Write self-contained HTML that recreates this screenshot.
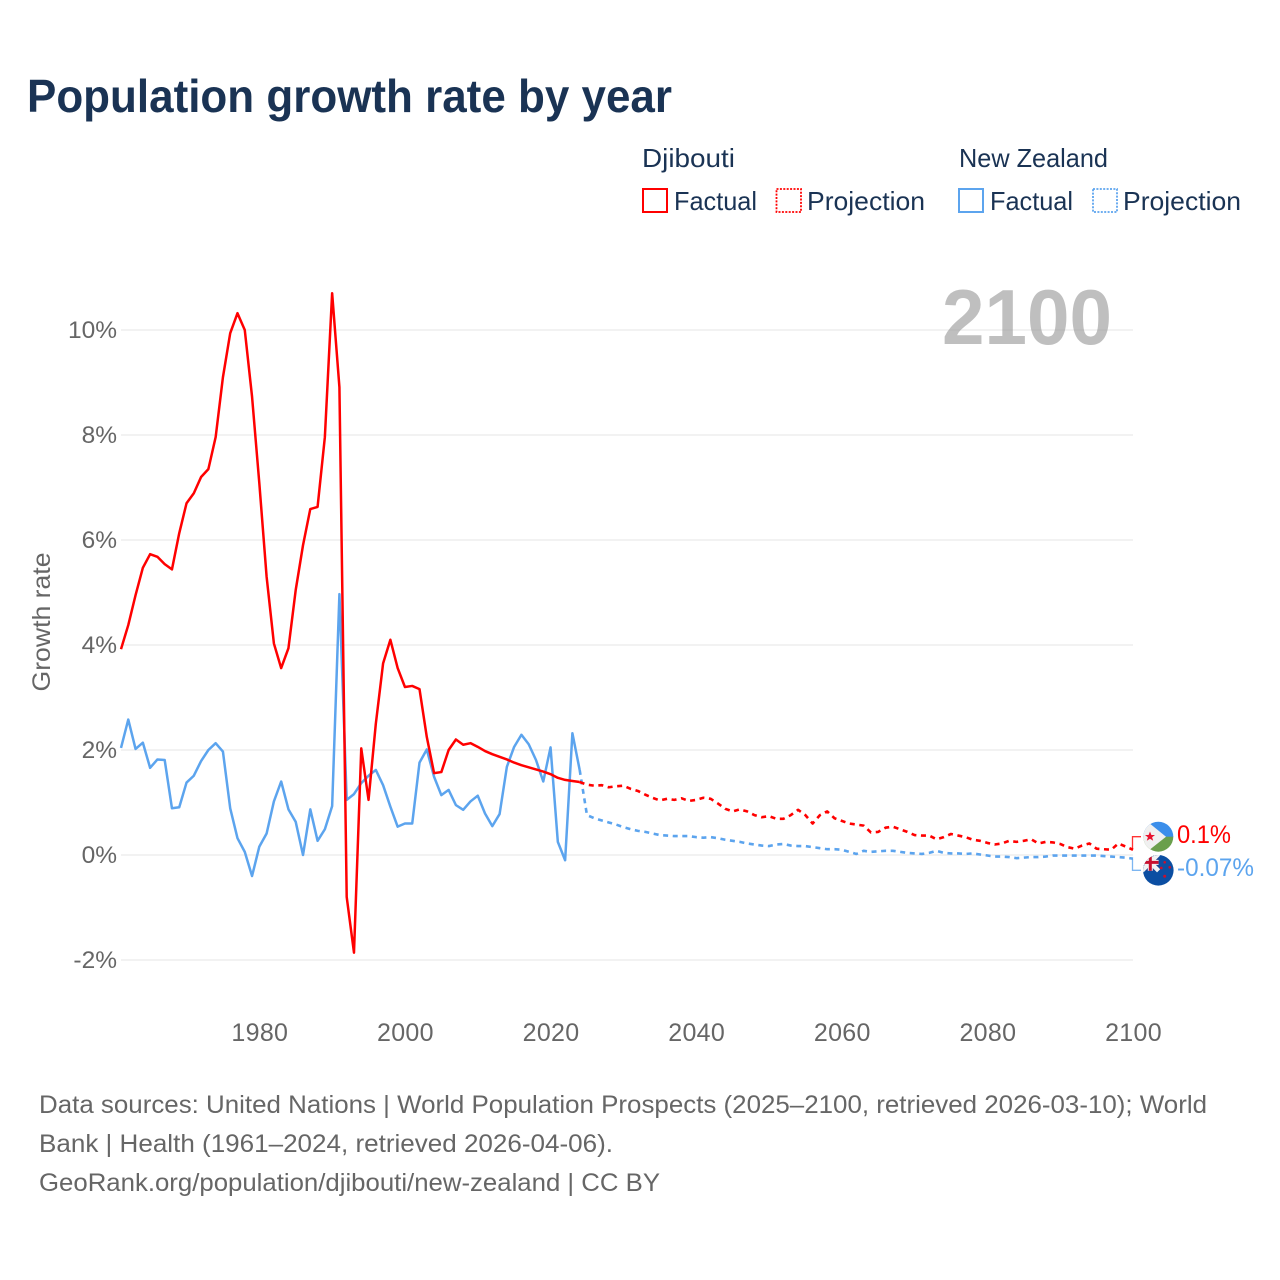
<!DOCTYPE html>
<html lang="en">
<head>
<meta charset="utf-8">
<title>Population growth rate by year</title>
<style>
  html, body { margin: 0; padding: 0; background: #fff; }
  svg { display: block; }
  text { font-family: "Liberation Sans", "DejaVu Sans", sans-serif; }
</style>
</head>
<body>
<svg id="chart" xmlns="http://www.w3.org/2000/svg" width="1280" height="1280" viewBox="0 0 1280 1280">
  <defs>
    <clipPath id="flag-clip-dj"><circle cx="1158.3" cy="836.7" r="15"/></clipPath>
    <clipPath id="flag-clip-nz"><circle cx="1158.3" cy="870.3" r="15.3"/></clipPath>
  </defs>
  <rect width="1280" height="1280" fill="#fff"/>

  <text x="27" y="112" font-size="46" font-weight="700" fill="#1a3354" textLength="645" lengthAdjust="spacingAndGlyphs">Population growth rate by year</text>

  <g font-size="26" fill="#1a3354">
    <text x="642" y="167" textLength="93" lengthAdjust="spacingAndGlyphs">Djibouti</text>
    <text x="959" y="167" textLength="149" lengthAdjust="spacingAndGlyphs">New Zealand</text>
    <rect x="643" y="189" width="24" height="23" fill="none" stroke="#ff0000" stroke-width="2"/>
    <text x="674" y="210" textLength="83" lengthAdjust="spacingAndGlyphs">Factual</text>
    <rect x="776.5" y="189" width="24.5" height="23" fill="none" stroke="#ff0000" stroke-width="1.8" stroke-dasharray="2 1.4"/>
    <text x="807" y="210" textLength="118" lengthAdjust="spacingAndGlyphs">Projection</text>
    <rect x="959" y="189" width="24" height="23" fill="none" stroke="#5ca4ee" stroke-width="2"/>
    <text x="990" y="210" textLength="83" lengthAdjust="spacingAndGlyphs">Factual</text>
    <rect x="1093" y="189" width="24" height="23" fill="none" stroke="#5ca4ee" stroke-width="1.8" stroke-dasharray="2 1.4"/>
    <text x="1123" y="210" textLength="118" lengthAdjust="spacingAndGlyphs">Projection</text>
  </g>

  <g id="grid"></g>
  <g id="y-ticks"></g>
  <g id="x-ticks"></g>

  <text x="942" y="344" font-size="78" font-weight="700" fill="#949494" fill-opacity="0.6" textLength="170" lengthAdjust="spacingAndGlyphs">2100</text>

  <text transform="translate(50,622) rotate(-90)" text-anchor="middle" font-size="25" fill="#666" textLength="139" lengthAdjust="spacingAndGlyphs">Growth rate</text>

  <g id="series"></g>

  <g id="end-markers"></g>

  <g clip-path="url(#flag-clip-dj)">
    <rect x="1143" y="821" width="31" height="16" fill="#3b8eea"/>
    <rect x="1143" y="836.7" width="31" height="16" fill="#6a9f4c"/>
    <polygon points="1143,818 1143,855 1166,836.7" fill="#f0f0f0"/>
    <polygon points="1150,831.5 1151.4,835 1155,835 1152.1,837.3 1153.2,840.8 1150,838.7 1146.8,840.8 1147.9,837.3 1145,835 1148.6,835" fill="#e8112d"/>
  </g>
  <g clip-path="url(#flag-clip-nz)">
    <rect x="1142" y="854" width="33" height="33" fill="#0b4ea2"/>
    <rect x="1142" y="854" width="16.6" height="16.8" fill="#20408f"/>
    <path d="M1142 854 L1158.6 870.8 M1158.6 854 L1142 870.8" stroke="#f2f2f2" stroke-width="4.4"/>
    <path d="M1150.3 854 V870.8 M1142 862.4 H1158.6" stroke="#f2f2f2" stroke-width="5"/>
    <path d="M1150.3 854 V870.8 M1142 862.4 H1158.6" stroke="#c8102e" stroke-width="3"/>
    <circle cx="1161.3" cy="868" r="1.4" fill="#c8102e"/>
    <circle cx="1169.7" cy="867.3" r="1.3" fill="#c8102e"/>
    <circle cx="1164.7" cy="876.3" r="1.5" fill="#c8102e"/>
    <circle cx="1164.7" cy="862.3" r="1.3" fill="#c8102e"/>
  </g>

  <g font-size="25" fill="#666">
    <text x="39" y="1113" textLength="1168" lengthAdjust="spacingAndGlyphs">Data sources: United Nations | World Population Prospects (2025–2100, retrieved 2026-03-10); World</text>
    <text x="39" y="1152" textLength="574" lengthAdjust="spacingAndGlyphs">Bank | Health (1961–2024, retrieved 2026-04-06).</text>
    <text x="39" y="1191" textLength="621" lengthAdjust="spacingAndGlyphs">GeoRank.org/population/djibouti/new-zealand | CC BY</text>
  </g>
</svg>

<script>
const factualStartYear = 1961;
const projectionStartYear = 2025;

const djiboutiFactual = [
  3.92, 4.38, 4.95, 5.47, 5.73, 5.68, 5.54, 5.44, 6.13, 6.70,
  6.89, 7.20, 7.35, 7.96, 9.10, 9.94, 10.32, 10.00, 8.73, 7.08,
  5.30, 4.03, 3.56, 3.94, 5.05, 5.90, 6.59, 6.63, 7.96, 10.70,
  8.91, -0.80, -1.86, 2.03, 1.05, 2.50, 3.65, 4.10, 3.56, 3.20,
  3.22, 3.16, 2.25, 1.56, 1.58, 2.00, 2.20, 2.10, 2.13, 2.06,
  1.98, 1.92, 1.87, 1.82, 1.76, 1.71, 1.67, 1.63, 1.59, 1.54,
  1.47, 1.43, 1.41, 1.39
];

const djiboutiProjection = [
  1.34, 1.32, 1.33, 1.29, 1.31, 1.32, 1.26, 1.22, 1.15, 1.09,
  1.04, 1.07, 1.05, 1.08, 1.03, 1.05, 1.09, 1.07, 0.98, 0.88,
  0.83, 0.87, 0.83, 0.76, 0.72, 0.74, 0.69, 0.69, 0.76, 0.86,
  0.76, 0.60, 0.76, 0.83, 0.70, 0.65, 0.60, 0.58, 0.56, 0.43,
  0.44, 0.52, 0.54, 0.49, 0.44, 0.38, 0.37, 0.37, 0.30, 0.34,
  0.40, 0.37, 0.34, 0.29, 0.27, 0.23, 0.20, 0.22, 0.27, 0.25,
  0.27, 0.30, 0.22, 0.25, 0.24, 0.21, 0.15, 0.12, 0.18, 0.22,
  0.12, 0.11, 0.10, 0.22, 0.16, 0.10
];

const newZealandFactual = [
  2.04, 2.58, 2.02, 2.14, 1.66, 1.82, 1.81, 0.89, 0.91, 1.38,
  1.51, 1.79, 2.00, 2.13, 1.97, 0.89, 0.32, 0.06, -0.40, 0.16,
  0.41, 1.02, 1.40, 0.87, 0.63, 0.00, 0.87, 0.27, 0.49, 0.93,
  4.97, 1.05, 1.16, 1.37, 1.51, 1.62, 1.33, 0.92, 0.54, 0.60,
  0.60, 1.76, 2.01, 1.49, 1.14, 1.24, 0.95, 0.86, 1.02, 1.13,
  0.79, 0.55, 0.78, 1.68, 2.06, 2.29, 2.11, 1.81, 1.40, 2.05,
  0.25, -0.10, 2.32, 1.62
];

const newZealandProjection = [
  0.76, 0.70, 0.66, 0.62, 0.58, 0.53, 0.49, 0.46, 0.44, 0.41,
  0.38, 0.37, 0.36, 0.36, 0.36, 0.34, 0.33, 0.34, 0.32, 0.29,
  0.27, 0.25, 0.22, 0.20, 0.18, 0.17, 0.20, 0.21, 0.18, 0.17,
  0.17, 0.15, 0.13, 0.11, 0.11, 0.10, 0.06, 0.02, 0.08, 0.06,
  0.07, 0.08, 0.08, 0.06, 0.04, 0.03, 0.02, 0.04, 0.08, 0.04,
  0.03, 0.03, 0.02, 0.03, 0.01, -0.01, -0.03, -0.03, -0.04, -0.06,
  -0.05, -0.04, -0.04, -0.03, -0.01, -0.01, -0.01, -0.01, -0.01, -0.01,
  -0.01, -0.02, -0.03, -0.04, -0.05, -0.07
];

const yTickValues = [-2, 0, 2, 4, 6, 8, 10];
const yTickLabels = ["-2%", "0%", "2%", "4%", "6%", "8%", "10%"];
const xTickValues = [1980, 2000, 2020, 2040, 2060, 2080, 2100];
const xTickLabels = ["1980", "2000", "2020", "2040", "2060", "2080", "2100"];
const endLabels = ["0.1%", "-0.07%"];

const SVG_NS = "http://www.w3.org/2000/svg";
const plotLeft = 121;
const plotRight = 1133;
const xDomainStart = 1961;
const xDomainEnd = 2100;
const zeroY = 855;
const pxPerUnit = 52.5;
const RED = "#ff0000";
const BLUE = "#5ca4ee";

function xScale(year) {
  return plotLeft + (year - xDomainStart) * (plotRight - plotLeft) / (xDomainEnd - xDomainStart);
}
function yScale(value) {
  return zeroY - value * pxPerUnit;
}
function make(tag, attrs, parent) {
  const el = document.createElementNS(SVG_NS, tag);
  for (const k in attrs) el.setAttribute(k, attrs[k]);
  parent.appendChild(el);
  return el;
}
function linePath(startYear, values) {
  return values.map(function (v, i) {
    return (i ? "L" : "M") + xScale(startYear + i).toFixed(2) + " " + yScale(v).toFixed(2);
  }).join(" ");
}

const gridGroup = document.getElementById("grid");
const yTickGroup = document.getElementById("y-ticks");
yTickValues.forEach(function (v, i) {
  const line = make("line", { x1: plotLeft, x2: plotRight, y1: yScale(v), y2: yScale(v), stroke: "#eeeeee", "stroke-width": 1.6 }, gridGroup);
  
  
  const label = make("text", { x: 117, y: yScale(v) + 8, "text-anchor": "end", "font-size": 24.5, fill: "#666" }, yTickGroup);
  
  
  label.textContent = yTickLabels[i];
});

const xTickGroup = document.getElementById("x-ticks");
xTickValues.forEach(function (v, i) {
  const label = make("text", { x: xScale(v) + 0.5, y: 1041, "text-anchor": "middle", "font-size": 25, "letter-spacing": 0.3, fill: "#666" }, xTickGroup);
  
  
  label.textContent = xTickLabels[i];
});

const seriesGroup = document.getElementById("series");
function drawSeries(name, color, factual, projection) {
  const lastFactual = factual[factual.length - 1];
  const lastFactualYear = factualStartYear + factual.length - 1;
  const projPath = linePath(lastFactualYear, [lastFactual].concat(projection));
  const dashed = make("path", { d: projPath, fill: "none", stroke: color, "stroke-width": 2.6, "stroke-dasharray": "5 4.6", "stroke-linejoin": "round" }, seriesGroup);
  
  
  const solid = make("path", { d: linePath(factualStartYear, factual), fill: "none", stroke: color, "stroke-width": 2.5, "stroke-linejoin": "round" }, seriesGroup);
  
  
}
drawSeries("new-zealand", BLUE, newZealandFactual, newZealandProjection);
drawSeries("djibouti", RED, djiboutiFactual, djiboutiProjection);

const endGroup = document.getElementById("end-markers");
function drawEnd(name, color, value, flagY, labelBaseline, text) {
  const startY = yScale(value);
  const connector = make("path", { d: "M1132.5 " + startY.toFixed(2) + " V" + flagY + " H1141", fill: "none", stroke: color, "stroke-width": 1.3, opacity: 0.8 }, endGroup);
  
  
  const label = make("text", { x: 1177, y: labelBaseline, "font-size": 25, fill: color, textLength: text.length > 4 ? 77 : 54, lengthAdjust: "spacingAndGlyphs" }, endGroup);
  
  
  label.textContent = text;
}
drawEnd("djibouti", RED, djiboutiProjection[djiboutiProjection.length - 1], 836.7, 843, endLabels[0]);
drawEnd("new-zealand", BLUE, newZealandProjection[newZealandProjection.length - 1], 870.3, 876, endLabels[1]);
</script>
</body>
</html>
